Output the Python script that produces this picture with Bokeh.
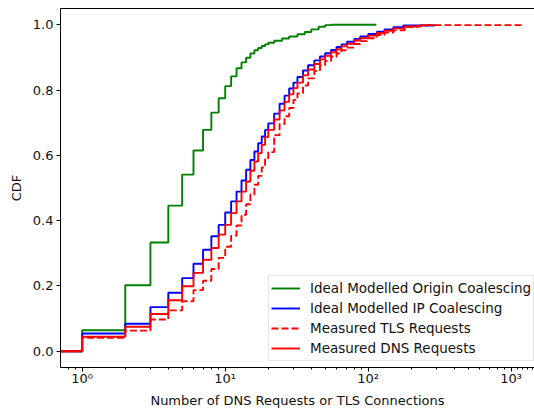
from bokeh.plotting import figure
from bokeh.models import Range1d, FixedTicker, LogAxis, Legend, LegendItem
from bokeh.embed import file_html
from bokeh.resources import INLINE

# Empirical CDFs: number of requests/connections per page load and cumulative share of pages
origin_counts = [1, 2, 3, 4, 5, 6, 7, 8, 9, 10, 11, 12, 13, 14, 15, 16, 17, 18, 19, 20,
                 22, 25, 28, 32, 36, 40, 45, 50, 55, 114]
origin_cdf = [0.064, 0.202, 0.333, 0.446, 0.541, 0.615, 0.678, 0.731, 0.775, 0.812,
              0.842, 0.867, 0.885, 0.899, 0.912, 0.922, 0.929, 0.935, 0.940, 0.945,
              0.951, 0.958, 0.964, 0.971, 0.978, 0.986, 0.994, 0.999, 1.0, 1.0]

ip_counts = [1, 2, 3, 4, 5, 6, 7, 8, 9, 10, 11, 12, 13, 14, 15, 16, 17, 18, 19, 20,
             22, 24, 26, 28, 30, 32, 35, 38, 42, 46, 50, 55, 60, 65, 71, 80, 88, 100,
             115, 130, 150, 176, 290]
ip_cdf = [0.054, 0.084, 0.135, 0.179, 0.224, 0.268, 0.311, 0.352, 0.387, 0.425,
          0.459, 0.489, 0.523, 0.556, 0.586, 0.612, 0.637, 0.658, 0.678, 0.698,
          0.728, 0.758, 0.783, 0.805, 0.823, 0.840, 0.860, 0.876, 0.891, 0.903,
          0.913, 0.923, 0.932, 0.940, 0.948, 0.957, 0.964, 0.972, 0.979, 0.986,
          0.993, 0.998, 1.0]

tls_counts = [1, 2, 3, 4, 5, 6, 7, 8, 9, 10, 11, 12, 13, 14, 15, 16, 17, 18, 19, 20,
              22, 24, 26, 28, 30, 32, 35, 38, 42, 46, 50, 55, 60, 65, 71, 80, 88, 100,
              115, 130, 150, 180, 220, 258, 1175]
tls_cdf = [0.041, 0.063, 0.097, 0.125, 0.153, 0.187, 0.216, 0.252, 0.286, 0.320,
           0.354, 0.385, 0.418, 0.450, 0.480, 0.510, 0.537, 0.563, 0.588, 0.610,
           0.662, 0.696, 0.720, 0.745, 0.770, 0.790, 0.814, 0.836, 0.859, 0.876,
           0.889, 0.902, 0.912, 0.922, 0.930, 0.941, 0.950, 0.959, 0.969, 0.976,
           0.983, 0.993, 0.997, 0.999, 1.0]

dns_counts = [1, 2, 3, 4, 5, 6, 7, 8, 9, 10, 11, 12, 13, 14, 15, 16, 17, 18, 19, 20,
              22, 24, 26, 28, 30, 32, 35, 38, 42, 46, 50, 55, 60, 65, 71, 80, 88, 100,
              115, 130, 150, 180, 233, 290]
dns_cdf = [0.044, 0.075, 0.114, 0.156, 0.199, 0.240, 0.280, 0.316, 0.357, 0.387,
           0.423, 0.459, 0.489, 0.520, 0.553, 0.581, 0.607, 0.632, 0.656, 0.678,
           0.710, 0.738, 0.764, 0.787, 0.806, 0.823, 0.845, 0.863, 0.880, 0.894,
           0.905, 0.916, 0.925, 0.934, 0.942, 0.952, 0.959, 0.967, 0.975, 0.982,
           0.989, 0.995, 0.999, 1.0]

series_labels = ["Ideal Modelled Origin Coalescing", "Ideal Modelled IP Coalescing",
                 "Measured TLS Requests", "Measured DNS Requests"]
x_tick_values = [1, 10, 100, 1000]
x_tick_labels = ["10\u2070", "10\u00b9", "10\u00b2", "10\u00b3"]
y_tick_values = [0.0, 0.2, 0.4, 0.6, 0.8, 1.0]

X_START, X_END = 0.705, 1455.0
FONT = "DejaVu Sans"

p = figure(width=534, height=410, x_axis_type="log", output_backend="svg",
           toolbar_location=None, x_range=Range1d(X_START, X_END),
           y_range=Range1d(-0.05, 1.05),
           min_border_left=60, min_border_right=0, min_border_top=8,
           min_border_bottom=42)
p.outline_line_color = None
p.xgrid.visible = False
p.ygrid.visible = False
p.background_fill_color = "white"
p.border_fill_color = "white"

minor = [0.8, 0.9] + [m * d for d in (1, 10, 100) for m in range(2, 10)] + [1100, 1200, 1300, 1400]
xaxis = p.xaxis[0]
xaxis.ticker = FixedTicker(ticks=x_tick_values, minor_ticks=minor)
xaxis.major_label_overrides = dict(zip(x_tick_values, x_tick_labels))
yaxis = p.yaxis[0]
yaxis.ticker = FixedTicker(ticks=y_tick_values, minor_ticks=[])
yaxis.major_label_overrides = {v: f"{v:.1f}" for v in y_tick_values}

for ax in (xaxis, yaxis):
    ax.axis_line_color = "black"
    ax.axis_line_width = 1
    ax.major_tick_line_color = "black"
    ax.minor_tick_line_color = "black"
    ax.major_tick_in = 0
    ax.major_tick_out = 4
    ax.minor_tick_in = 0
    ax.minor_tick_out = 2
    ax.major_label_text_font = FONT
    ax.major_label_text_font_size = "13px"
    ax.major_label_text_color = "#111111"
    ax.axis_label_text_font = FONT
    ax.axis_label_text_font_size = "13px"
    ax.axis_label_text_font_style = "normal"
    ax.axis_label_text_color = "#111111"

xaxis.axis_label = "Number of DNS Requests or TLS Connections"
xaxis.major_label_standoff = -1
xaxis.axis_label_standoff = 4
yaxis.axis_label = "CDF"
yaxis.major_label_standoff = 3
yaxis.axis_label_standoff = 6

# top spine of the axes box
top = LogAxis(ticker=FixedTicker(ticks=[], minor_ticks=[]), major_tick_out=0,
              minor_tick_out=0, major_label_text_font_size="0px",
              axis_line_color="black", axis_line_width=1)
p.add_layout(top, "above")


def steps(counts, cdf):
    return [X_START] + list(counts), [0.0] + list(cdf)


x, y = steps(origin_counts, origin_cdf)
r_origin = p.step(x, y, mode="after", line_color="#008000", line_width=1.9)
x, y = steps(ip_counts, ip_cdf)
r_ip = p.step(x, y, mode="after", line_color="#0000ff", line_width=1.9)
x, y = steps(tls_counts, tls_cdf)
r_tls = p.step(x, y, mode="after", line_color="#ff0000", line_width=1.9, line_dash="7 3")
x, y = steps(dns_counts, dns_cdf)
r_dns = p.step(x, y, mode="after", line_color="#ff0000", line_width=1.9)

legend = Legend(items=[LegendItem(label=l, renderers=[r]) for l, r in
                       zip(series_labels, [r_origin, r_ip, r_tls, r_dns])],
                location=(208, 6), padding=2, spacing=0, margin=0,
                label_height=20, glyph_height=20, glyph_width=29, label_standoff=10,
                label_text_font=FONT, label_text_font_size="13.5px",
                label_text_color="#111111",
                border_line_color="#cccccc", border_line_width=1,
                background_fill_color="white", background_fill_alpha=0.8)
p.add_layout(legend)

open("out.html", "w").write(file_html(p, INLINE))
